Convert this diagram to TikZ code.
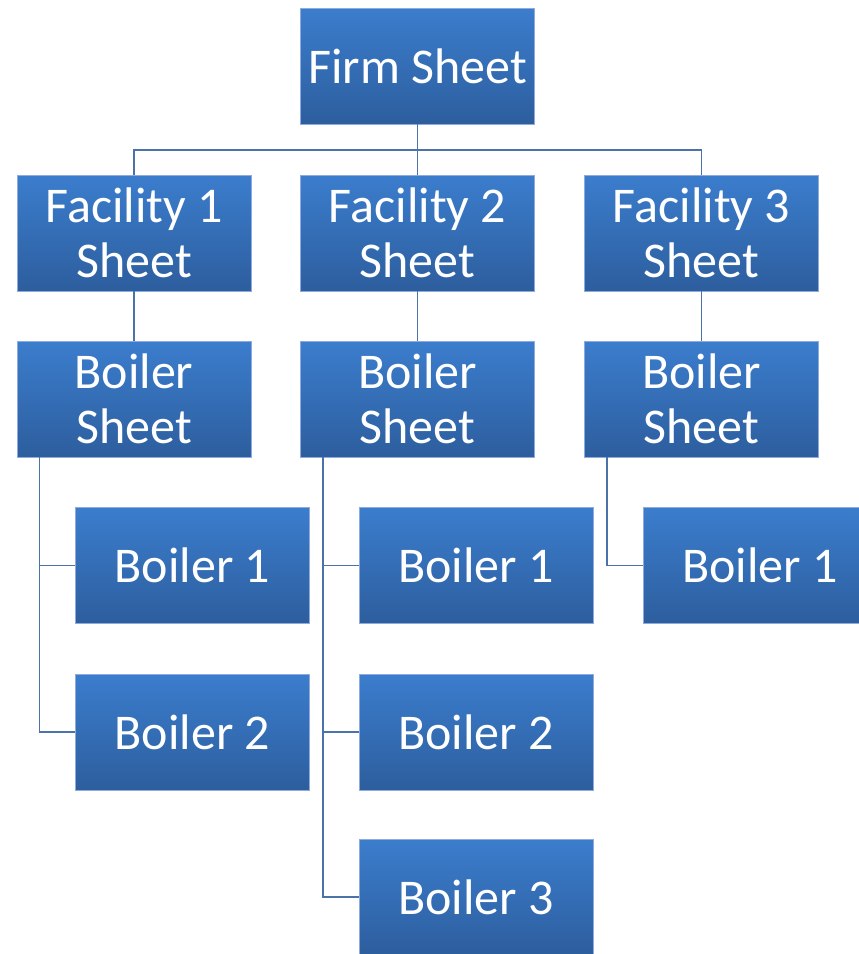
\documentclass[tikz,border=0pt]{standalone}
\usepackage{fontspec}
\setmainfont{Carlito}
\definecolor{boxtop}{HTML}{3B7DCD}
\definecolor{boxbot}{HTML}{2D5E9E}
\definecolor{boxline}{HTML}{8FAADC}
\definecolor{linkcol}{HTML}{4C72AA}
\begin{document}
\begin{tikzpicture}[x=1pt,y=-1pt]
\tikzset{sheetbox/.style={draw=boxline, line width=0.7pt, top color=boxtop, bottom color=boxbot,
  minimum width=234pt, minimum height=116pt, inner sep=0pt, text=white, align=center,
  font=\fontsize{50}{55}\selectfont}}
\tikzset{link/.style={draw=linkcol, line width=1.4pt}}
\useasboundingbox (0,0) rectangle (859,954);
\clip (0,0) rectangle (859,954);
\node[sheetbox] (F) at (417.5,66) {Firm Sheet};
\node[sheetbox] (F1) at (134,233) {Facility 1\\Sheet};
\node[sheetbox] (F2) at (417.5,233) {Facility 2\\Sheet};
\node[sheetbox] (F3) at (701.5,233) {Facility 3\\Sheet};
\node[sheetbox] (S1) at (134,399) {Boiler\\Sheet};
\node[sheetbox] (S2) at (417.5,399) {Boiler\\Sheet};
\node[sheetbox] (S3) at (701.5,399) {Boiler\\Sheet};
\node[sheetbox] (B11) at (192.5,565.5) {Boiler 1};
\node[sheetbox] (B12) at (192.5,732) {Boiler 2};
\node[sheetbox] (B21) at (476,565.5) {Boiler 1};
\node[sheetbox] (B22) at (476,732) {Boiler 2};
\node[sheetbox] (B23) at (476,897) {Boiler 3};
\node[sheetbox] (B31) at (760,565.5) {Boiler 1};
\coordinate (J) at (417.5,150);
\draw[link] (F.south) -- (J);
\draw[link] (J) -| (F1.north);
\draw[link] (J) -- (F2.north);
\draw[link] (J) -| (F3.north);
\draw[link] (F1) -- (S1);
\draw[link] (F2) -- (S2);
\draw[link] (F3) -- (S3);
\draw[link] ([xshift=23pt]S1.south west) |- (B11.west);
\draw[link] ([xshift=23pt]S1.south west) |- (B12.west);
\draw[link] ([xshift=23pt]S2.south west) |- (B21.west);
\draw[link] ([xshift=23pt]S2.south west) |- (B22.west);
\draw[link] ([xshift=23pt]S2.south west) |- (B23.west);
\draw[link] ([xshift=23pt]S3.south west) |- (B31.west);
\end{tikzpicture}
\end{document}
